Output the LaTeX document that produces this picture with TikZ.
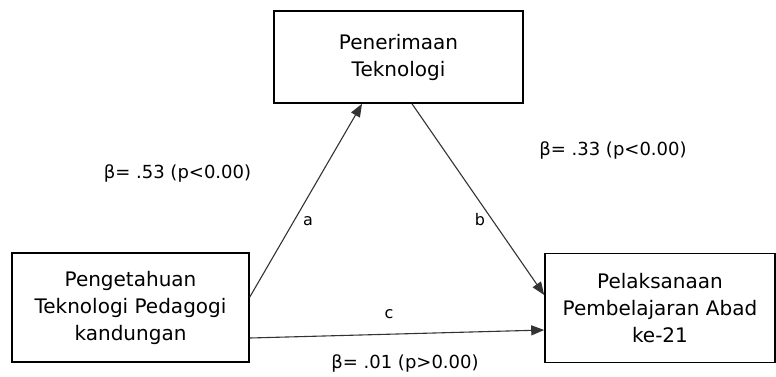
\documentclass[tikz,border=0pt]{standalone}
\usepackage{fontspec}
\setmainfont{DejaVu Sans}
\usetikzlibrary{arrows.meta}

\tikzset{
  varbox/.style={draw=black, line width=1.6pt, align=center, inner sep=0pt,
    font=\fontsize{20}{27}\selectfont},
  path/.style={draw=black!80, line width=1.1pt, -{Triangle[length=13pt, width=10pt]}},
  coef/.style={font=\fontsize{18}{22}\selectfont},
  pathlabel/.style={font=\fontsize{16}{20}\selectfont}
}

\begin{document}
\begin{tikzpicture}[x=1pt, y=-1pt]
\useasboundingbox (0,0) rectangle (776,376);

\def\boxh{109};

% the three variables
\node[varbox, minimum width=249pt, minimum height=92pt] (accept) at (398.5, 57) {Penerimaan\\Teknologi};
\node[varbox, minimum width=237pt, minimum height=\boxh pt] (tpack) at (130.5, 307.5) {Pengetahuan\\Teknologi Pedagogi\\kandungan};
\node[varbox, minimum width=230pt, minimum height=\boxh pt] (practice) at (660, 308) {Pelaksanaan\\Pembelajaran Abad\\ke-21};

% paths a, b, c
\draw[path] ([yshift=10.5pt]tpack.east) -- ([xshift=-36.5pt]accept.south);
\draw[path] ([xshift=13.5pt]accept.south) -- ([yshift=13pt]practice.west);
\draw[path] ([yshift=-30.5pt]tpack.east) -- ([yshift=-22pt]practice.west);

\node[pathlabel] (la) at (308, 221) {a};
\node[pathlabel] (lb) at (480, 220) {b};
\node[pathlabel] (lc) at (389, 314) {c};

% coefficients
\node[coef] (ca) at (177.5, 173) {β= .53 (p<0.00)};
\node[coef] (cb) at (613, 150) {β= .33 (p<0.00)};
\node[coef] (cc) at (405, 363) {β= .01 (p>0.00)};

\end{tikzpicture}
\end{document}
